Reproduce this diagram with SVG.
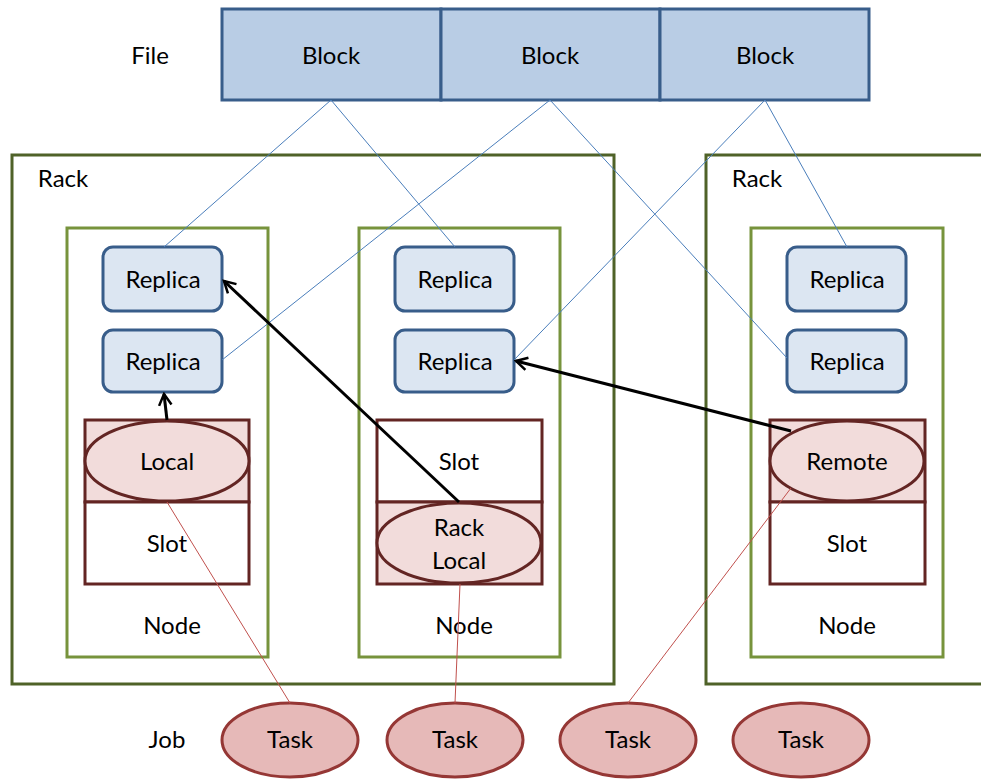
<svg xmlns="http://www.w3.org/2000/svg" width="981" height="779" viewBox="0 0 981 779">
<defs>
<style>
text{font-family:Lato,"Open Sans","Liberation Sans",sans-serif;font-size:24px;fill:#000;text-anchor:middle;dominant-baseline:central}
.block{fill:#b9cde5;stroke:#385d8a;stroke-width:3}
.rack{fill:none;stroke:#4f6228;stroke-width:3}
.node{fill:none;stroke:#77933c;stroke-width:3}
.replica{fill:#dce6f2;stroke:#385d8a;stroke-width:3}
.slotw{fill:#fff;stroke:#632523;stroke-width:3}
.slotp{fill:#f2dcdb;stroke:#632523;stroke-width:3}
.loc{fill:#f2dcdb;stroke:#632523;stroke-width:3}
.task{fill:#e6b9b8;stroke:#953735;stroke-width:3}
.blue{stroke:#4a7ebb;stroke-width:1;fill:none}
.red{stroke:#c0504d;stroke-width:1;fill:none}
.arr{stroke:#000;stroke-width:3;fill:none;marker-end:url(#ah)}
</style>
<marker id="ah" viewBox="0 0 12 12" refX="10" refY="6" markerWidth="5" markerHeight="5" markerUnits="strokeWidth" orient="auto">
<path d="M1,1 L10,6 L1,11" fill="none" stroke="#000" stroke-width="2"/>
</marker>
</defs>
<rect width="981" height="779" fill="#fff"/>
<g id="file">
<text x="150" y="54">File</text>
<rect class="block" x="222" y="9" width="219" height="91"/>
<rect class="block" x="441" y="9" width="219" height="91"/>
<rect class="block" x="660" y="9" width="209" height="91"/>
<text x="331" y="54">Block</text>
<text x="550" y="54">Block</text>
<text x="765" y="54">Block</text>
</g>
<g id="rack1">
<rect class="rack" x="12" y="155" width="602" height="529"/>
<text x="63" y="177">Rack</text>
</g>
<g id="rack2">
<path class="rack" d="M985,155 H706 V684 H985"/>
<text x="757" y="177">Rack</text>
</g>
<g id="node1">
<rect class="node" x="67" y="228" width="201" height="429"/>
<text x="172" y="624">Node</text>
<rect class="replica" x="103" y="247" width="119" height="64" rx="10"/>
<text x="163" y="278">Replica</text>
<rect class="replica" x="103" y="330" width="119" height="62" rx="10"/>
<text x="163" y="360">Replica</text>
<rect class="slotp" x="85" y="420" width="164" height="82"/>
<rect class="slotw" x="85" y="502" width="164" height="82"/>
<text x="167" y="542">Slot</text>
<ellipse class="loc" cx="167" cy="461" rx="82" ry="40"/>
<text x="167" y="460">Local</text>
</g>
<g id="node2">
<rect class="node" x="359" y="228" width="201" height="429"/>
<text x="464" y="624">Node</text>
<rect class="replica" x="395" y="247" width="119" height="64" rx="10"/>
<text x="455" y="278">Replica</text>
<rect class="replica" x="395" y="330" width="119" height="62" rx="10"/>
<text x="455" y="360">Replica</text>
<rect class="slotw" x="377" y="420" width="165" height="82"/>
<text x="459" y="460">Slot</text>
<rect class="slotp" x="377" y="502" width="165" height="82"/>
<ellipse class="loc" cx="459" cy="543" rx="82" ry="40"/>
<text x="459" y="526">Rack</text>
<text x="459" y="559">Local</text>
</g>
<g id="node3">
<rect class="node" x="751" y="228" width="192" height="429"/>
<text x="847" y="624">Node</text>
<rect class="replica" x="787" y="247" width="119" height="64" rx="10"/>
<text x="847" y="278">Replica</text>
<rect class="replica" x="787" y="330" width="119" height="62" rx="10"/>
<text x="847" y="360">Replica</text>
<rect class="slotp" x="770" y="420" width="155" height="82"/>
<rect class="slotw" x="770" y="502" width="155" height="82"/>
<text x="847" y="542">Slot</text>
<ellipse class="loc" cx="847" cy="461" rx="77" ry="40"/>
<text x="847" y="460">Remote</text>
</g>
<g id="job">
<text x="167" y="738">Job</text>
</g>
<g id="task1"><ellipse class="task" cx="290" cy="740" rx="68" ry="37"/><text x="290" y="738">Task</text></g>
<g id="task2"><ellipse class="task" cx="455" cy="740" rx="68" ry="37"/><text x="455" y="738">Task</text></g>
<g id="task3"><ellipse class="task" cx="628" cy="740" rx="68" ry="37"/><text x="628" y="738">Task</text></g>
<g id="task4"><ellipse class="task" cx="801" cy="740" rx="68" ry="37"/><text x="801" y="738">Task</text></g>
<g id="connectors">
<line class="blue" x1="331" y1="100" x2="164" y2="247"/>
<line class="blue" x1="331" y1="100" x2="455" y2="247"/>
<line class="blue" x1="550" y1="100" x2="222" y2="360"/>
<line class="blue" x1="550" y1="100" x2="787" y2="358"/>
<line class="blue" x1="765" y1="100" x2="514" y2="360"/>
<line class="blue" x1="765" y1="100" x2="847" y2="247"/>
<line class="red" x1="167" y1="502" x2="290" y2="703"/>
<line class="red" x1="460" y1="584" x2="455" y2="703"/>
<line class="red" x1="791" y1="488" x2="628" y2="703"/>
<line class="arr" x1="167" y1="420" x2="164" y2="394"/>
<line class="arr" x1="459" y1="502" x2="224" y2="281"/>
<line class="arr" x1="791" y1="431" x2="516" y2="361"/>
</g>
</svg>
